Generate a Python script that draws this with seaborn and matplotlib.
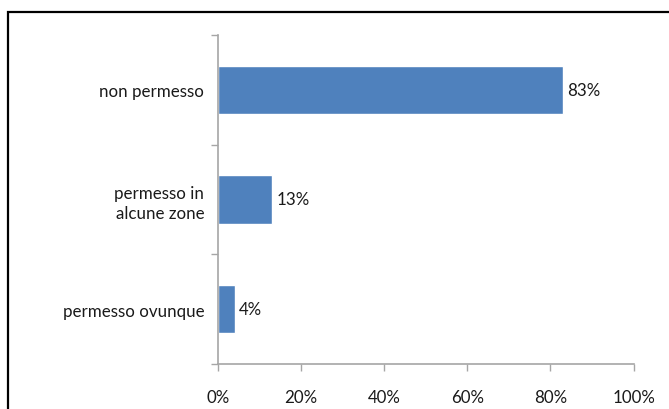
import matplotlib
matplotlib.use("Agg")
import matplotlib.pyplot as plt
import seaborn as sns
import pandas as pd
from matplotlib.patches import Rectangle
from matplotlib.ticker import FixedLocator

categories = ["non permesso", "permesso in\nalcune zone", "permesso ovunque"]
values = [83, 13, 4]
x_ticks = [0, 20, 40, 60, 80, 100]

sns.set_theme(style="white")
plt.rcParams["font.family"] = ["Lato", "DejaVu Sans"]

df = pd.DataFrame({"categoria": categories, "valore": values})

fig = plt.figure(figsize=(6.69, 4.10), dpi=100)
ax = fig.add_axes([0.326, 0.110, 0.621, 0.802])

sns.barplot(data=df, x="valore", y="categoria", orient="h", color="#4F81BD",
            saturation=1, width=0.44, ax=ax)

ax.set_xlim(0, 100)
ax.set_ylim(2.5, -0.5)
ax.set_xlabel("")
ax.set_ylabel("")

ax.set_xticks(x_ticks)
ax.set_xticklabels([f"{t}%" for t in x_ticks])

# category boundaries carry the tick marks on the vertical axis
ax.yaxis.set_minor_locator(FixedLocator([-0.5, 0.5, 1.5, 2.5]))
ax.tick_params(axis="y", which="major", length=0, pad=10, labelsize=12.2,
               labelcolor="#1a1a1a")
ax.tick_params(axis="y", which="minor", left=True, length=5, width=1,
               color="#a6a6a6")
ax.tick_params(axis="x", which="major", bottom=True, length=5, width=1,
               color="#a6a6a6", pad=13, labelsize=12.2, labelcolor="#1a1a1a")
for lbl in ax.get_yticklabels():
    lbl.set_linespacing(1.3)

for side in ["top", "right"]:
    ax.spines[side].set_visible(False)
for side in ["left", "bottom"]:
    ax.spines[side].set_color("#a6a6a6")
    ax.spines[side].set_linewidth(1.2)

for i, v in enumerate(values):
    ax.annotate(f"{v}%", xy=(v, i), xytext=(3, 0), textcoords="offset points",
                va="center", ha="left", fontsize=12.2, color="#1a1a1a")

# outer frame of the chart area
fig.patches.append(Rectangle((8 / 669, -0.1), 1.2, 1.1 - 13 / 410,
                             transform=fig.transFigure, fill=False,
                             edgecolor="black", linewidth=1.6))

fig.savefig("out.png", dpi=100, facecolor="white")
